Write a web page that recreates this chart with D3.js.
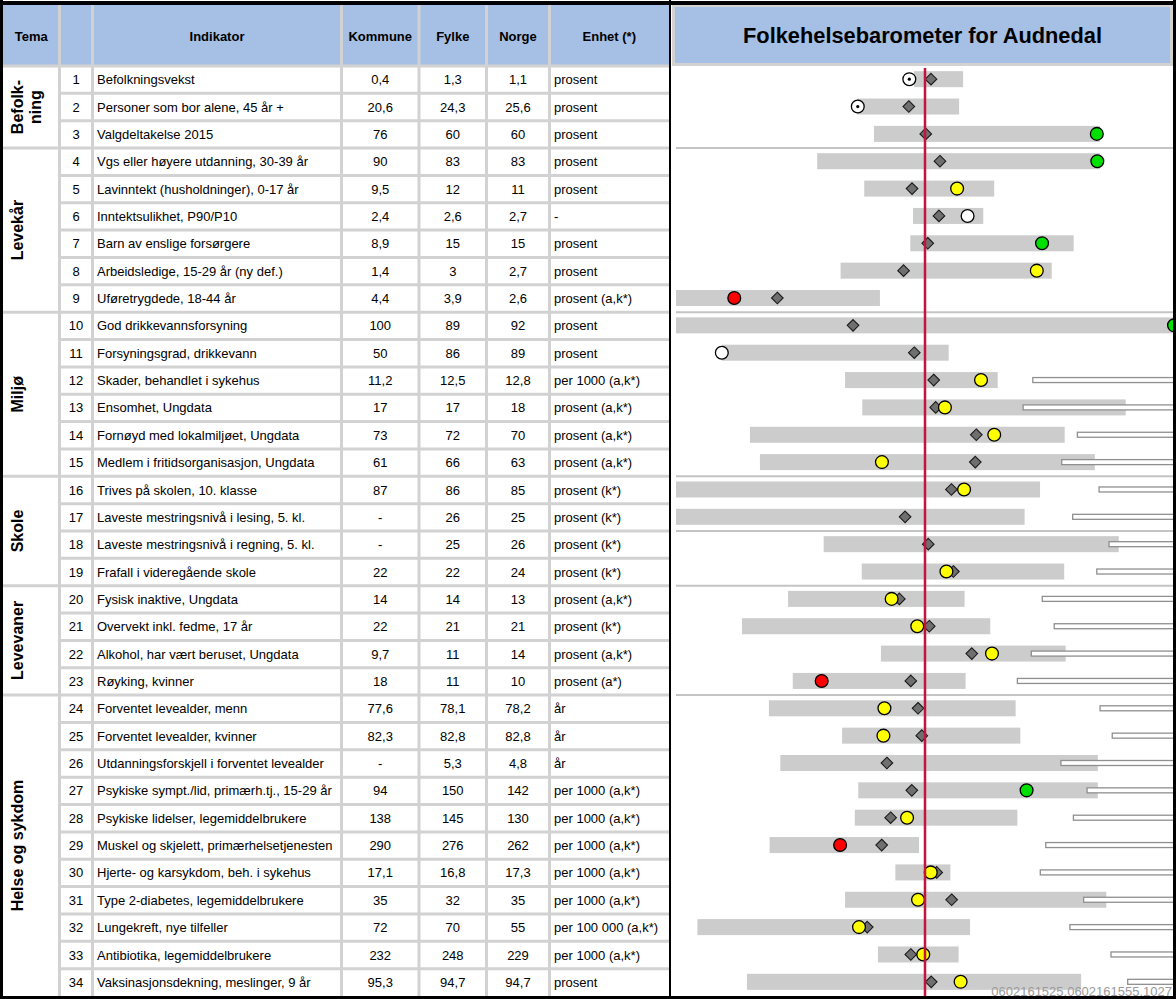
<!DOCTYPE html>
<html><head><meta charset="utf-8">
<script src="https://cdn.jsdelivr.net/npm/d3@7"></script>
<style>
body{margin:0;background:#fff}
svg{display:block}
text{font-family:"Liberation Sans",Arial,Helvetica,sans-serif;fill:#000}
</style>
</head><body>
<svg id="chart" width="1176" height="999"></svg>
<script>
// ---------- DATA ----------
const title = "Folkehelsebarometer for Audnedal";
const footer = "0602161525.0602161555.1027";
const headers = ["Tema", "", "Indikator", "Kommune", "Fylke", "Norge", "Enhet (*)"];
const temaNames = [["Befolk-", "ning"], ["Levekår"], ["Miljø"], ["Skole"], ["Levevaner"], ["Helse og sykdom"]];
const temaSizes = [3, 6, 6, 4, 4, 11];
const extraDividers = [17];   // extra barometer divider after row 17

const indikator = [
  "Befolkningsvekst", "Personer som bor alene, 45 år +", "Valgdeltakelse 2015",
  "Vgs eller høyere utdanning, 30-39 år", "Lavinntekt (husholdninger), 0-17 år", "Inntektsulikhet, P90/P10",
  "Barn av enslige forsørgere", "Arbeidsledige, 15-29 år (ny def.)", "Uføretrygdede, 18-44 år",
  "God drikkevannsforsyning", "Forsyningsgrad, drikkevann", "Skader, behandlet i sykehus",
  "Ensomhet, Ungdata", "Fornøyd med lokalmiljøet, Ungdata", "Medlem i fritidsorganisasjon, Ungdata",
  "Trives på skolen, 10. klasse", "Laveste mestringsnivå i lesing, 5. kl.", "Laveste mestringsnivå i regning, 5. kl.",
  "Frafall i videregående skole", "Fysisk inaktive, Ungdata", "Overvekt inkl. fedme, 17 år",
  "Alkohol, har vært beruset, Ungdata", "Røyking, kvinner", "Forventet levealder, menn",
  "Forventet levealder, kvinner", "Utdanningsforskjell i forventet levealder", "Psykiske sympt./lid, primærh.tj., 15-29 år",
  "Psykiske lidelser, legemiddelbrukere", "Muskel og skjelett, primærhelsetjenesten", "Hjerte- og karsykdom, beh. i sykehus",
  "Type 2-diabetes, legemiddelbrukere", "Lungekreft, nye tilfeller", "Antibiotika, legemiddelbrukere",
  "Vaksinasjonsdekning, meslinger, 9 år"
];
const kommune = ["0,4","20,6","76","90","9,5","2,4","8,9","1,4","4,4","100","50","11,2","17","73","61","87","-","-","22","14","22","9,7","18","77,6","82,3","-","94","138","290","17,1","35","72","232","95,3"];
const fylke   = ["1,3","24,3","60","83","12","2,6","15","3","3,9","89","86","12,5","17","72","66","86","26","25","22","14","21","11","11","78,1","82,8","5,3","150","145","276","16,8","32","70","248","94,7"];
const norge   = ["1,1","25,6","60","83","11","2,7","15","2,7","2,6","92","89","12,8","18","70","63","85","25","26","24","13","21","14","10","78,2","82,8","4,8","142","130","262","17,3","35","55","229","94,7"];
const enhet = ["prosent","prosent","prosent","prosent","prosent","-","prosent","prosent","prosent (a,k*)",
  "prosent","prosent","per 1000 (a,k*)","prosent (a,k*)","prosent (a,k*)","prosent (a,k*)",
  "prosent (k*)","prosent (k*)","prosent (k*)","prosent (k*)",
  "prosent (a,k*)","prosent (k*)","prosent (a,k*)","prosent (a*)",
  "år","år","år","per 1000 (a,k*)","per 1000 (a,k*)","per 1000 (a,k*)","per 1000 (a,k*)",
  "per 1000 (a,k*)","per 100 000 (a,k*)","per 1000 (a,k*)","prosent"];

// Barometer, standardised scores (Norge = 0)
const barLow  = [-4.4,-27.3,-20.5,-43.3,-24.4,-4.8,-5.9,-33.9,-100,-100,-81.6,-32.1,-25.2,-70.3,-66.3,-100,-100,-40.7,-25.4,-55.0,-73.5,-17.7,-53.1,-62.7,-33.3,-58.1,-26.8,-28.2,-62.4,-11.9,-32.1,-91.4,-18.9,-71.5];
const barHigh = [15.3,13.7,70.3,70.3,27.8,23.4,59.7,50.9,-18.1,100,9.5,29.2,80.6,56.1,68.2,46.2,40.0,77.8,55.9,15.9,26.2,56.5,16.3,36.4,38.3,69.4,69.4,37.1,-2.4,10.2,72.8,18.1,13.5,62.7];
const fylkeScore = [2.4,-6.5,0.3,6.0,-5.2,5.6,1.1,-8.6,-59.3,-28.9,-4.3,3.5,4.3,20.6,20.2,10.6,-8.0,1.3,11.4,-10.3,1.7,18.8,-5.7,-2.8,-1.3,-15.3,-5.3,-13.8,-17.4,4.7,10.7,-23.2,-5.7,2.5];
const kommuneScore = [-6.3,-27.0,69.0,69.2,12.9,17.1,47.0,44.9,-76.6,100,-81.6,22.5,8.0,27.8,-17.3,15.7,null,null,8.6,-13.4,-3.1,26.9,-41.5,-16.3,-16.7,null,40.8,-7.2,-34.1,2.3,-2.8,-26.5,-0.7,14.3];
const kommuneColor = ["dot","dot","green","green","yellow","white","green","yellow","red","green","white","yellow","yellow","yellow","yellow","yellow",null,null,"yellow","yellow","yellow","yellow","red","yellow","yellow",null,"green","yellow","red","yellow","yellow","yellow","yellow","yellow"];
const whiteStart = [null,null,null,null,null,null,null,null,null,null,null,43.3,39.4,61.2,54.9,69.9,59.3,73.9,69.0,47.1,51.9,42.7,37.1,70.3,75.2,54.6,65.1,59.6,48.5,46.3,63.7,58.2,74.7,81.4];

// ---------- LAYOUT ----------
const W = 1176, H = 999;
const colSep = [59.5, 92.5, 341.5, 419, 486.5, 549.5];
const tableLeft = 3, tableRight = 669;
const headTop = 5, headBottom = 66, bottom = 996;
const baroLeft = 672, baroRight = 1173;
const gridColor = "#d2d2d2";
const fills = {green:"#00e000", yellow:"#ffff00", red:"#ff0000", white:"#ffffff", dot:"#ffffff"};

const svg = d3.select("#chart");
const n = indikator.length;
const y = d3.scaleBand().domain(d3.range(n)).range([headBottom, bottom]).paddingInner(0);
const x = d3.scaleLinear().domain([-100, 100]).range([676, 1174]);
const cy = i => y(i) + y.bandwidth() / 2;

// group boundaries
const groupEnds = d3.cumsum(temaSizes);
const groupStarts = [0, ...groupEnds.slice(0, -1)];

// ---------- TABLE ----------
const tbl = svg.append("g");
tbl.append("rect").attr("x", tableLeft).attr("y", headTop).attr("width", tableRight - tableLeft).attr("height", headBottom - headTop).attr("fill", "#a6bfe4");

tbl.selectAll("line.v").data(colSep).join("line")
  .attr("x1", d => d).attr("x2", d => d).attr("y1", headTop).attr("y2", bottom)
  .attr("stroke", gridColor).attr("stroke-width", 3);

const rowBounds = d3.range(0, n);
tbl.selectAll("line.h").data(rowBounds).join("line")
  .attr("x1", d => (d === 0 || groupEnds.includes(d)) ? tableLeft : colSep[0])
  .attr("x2", tableRight)
  .attr("y1", d => y(d)).attr("y2", d => y(d))
  .attr("stroke", gridColor).attr("stroke-width", 3);

const headX = [(tableLeft + colSep[0]) / 2, (colSep[0] + colSep[1]) / 2, (colSep[1] + colSep[2]) / 2,
  (colSep[2] + colSep[3]) / 2, (colSep[3] + colSep[4]) / 2, (colSep[4] + colSep[5]) / 2, (colSep[5] + tableRight) / 2];
tbl.selectAll("text.head").data(headers).join("text")
  .attr("x", (d, i) => headX[i]).attr("y", (headTop + headBottom) / 2 + 1).attr("dy", "0.35em")
  .attr("text-anchor", "middle").attr("font-size", 13).attr("font-weight", "bold").text(d => d);

const rows = tbl.selectAll("g.row").data(d3.range(n)).join("g");
rows.append("text").attr("x", headX[1]).attr("y", i => cy(i)).attr("dy", "0.35em").attr("text-anchor", "middle").attr("font-size", 13).text(i => i + 1);
rows.append("text").attr("x", colSep[1] + 4.5).attr("y", i => cy(i)).attr("dy", "0.35em").attr("font-size", 13).text(i => indikator[i]);
rows.append("text").attr("x", headX[3]).attr("y", i => cy(i)).attr("dy", "0.35em").attr("text-anchor", "middle").attr("font-size", 13).text(i => kommune[i]);
rows.append("text").attr("x", headX[4]).attr("y", i => cy(i)).attr("dy", "0.35em").attr("text-anchor", "middle").attr("font-size", 13).text(i => fylke[i]);
rows.append("text").attr("x", headX[5]).attr("y", i => cy(i)).attr("dy", "0.35em").attr("text-anchor", "middle").attr("font-size", 13).text(i => norge[i]);
rows.append("text").attr("x", colSep[5] + 4.5).attr("y", i => cy(i)).attr("dy", "0.35em").attr("font-size", 13).text(i => enhet[i]);

temaNames.forEach((lines, g) => {
  const yc = (y(groupStarts[g]) + (groupEnds[g] < n ? y(groupEnds[g]) : bottom)) / 2;
  lines.forEach((line, k) => {
    const xc = lines.length === 1 ? 17.5 : 17 + k * 18;
    tbl.append("text").attr("transform", `translate(${xc},${yc}) rotate(-90)`)
      .attr("dy", "0.36em").attr("text-anchor", "middle").attr("font-size", 16).attr("font-weight", "bold").text(line);
  });
});

// ---------- BAROMETER ----------
const baro = svg.append("g");
svg.append("defs").append("clipPath").attr("id", "bclip").append("rect")
  .attr("x", baroLeft).attr("y", headBottom + 1).attr("width", baroRight - baroLeft).attr("height", bottom - headBottom - 1);

baro.append("rect").attr("x", baroLeft + 1.5).attr("y", headTop + 0.5).attr("width", baroRight - baroLeft - 3).attr("height", headBottom - headTop - 2)
  .attr("fill", "#a6bfe4").attr("stroke", gridColor).attr("stroke-width", 3);
baro.append("text").attr("x", (baroLeft + baroRight) / 2).attr("y", (headTop + headBottom) / 2).attr("dy", "0.36em")
  .attr("text-anchor", "middle").attr("font-size", 21.8).attr("font-weight", "bold").text(title);

const plot = baro.append("g").attr("clip-path", "url(#bclip)");
const dividers = [...groupEnds.slice(0, -1), ...extraDividers];
plot.selectAll("line.div").data(dividers).join("line")
  .attr("x1", 676).attr("x2", baroRight).attr("y1", d => y(d)).attr("y2", d => y(d))
  .attr("stroke", "#c4c4c4").attr("stroke-width", 2);

const barH = 16;
plot.selectAll("rect.range").data(d3.range(n)).join("rect")
  .attr("x", i => x(barLow[i])).attr("width", i => x(barHigh[i]) - x(barLow[i]))
  .attr("y", i => cy(i) - barH / 2 - 0.5).attr("height", barH).attr("fill", "#cccccc");

plot.selectAll("rect.white").data(d3.range(n).filter(i => whiteStart[i] !== null)).join("rect")
  .attr("x", i => x(whiteStart[i])).attr("width", i => x(100) + 4 - x(whiteStart[i]))
  .attr("y", i => cy(i) - 3).attr("height", 5).attr("fill", "#fff").attr("stroke", "#8f8f8f").attr("stroke-width", 1.3);

plot.selectAll("path.fylke").data(d3.range(n)).join("path")
  .attr("d", "M0,-5.8L5.8,0L0,5.8L-5.8,0Z")
  .attr("transform", i => `translate(${x(fylkeScore[i])},${cy(i) - 0.5})`)
  .attr("fill", "#6f6f6f").attr("stroke", "#1a1a1a").attr("stroke-width", 1.1);

const kIdx = d3.range(n).filter(i => kommuneScore[i] !== null);
plot.selectAll("circle.kom").data(kIdx).join("circle")
  .attr("cx", i => x(kommuneScore[i])).attr("cy", i => cy(i) - 0.5).attr("r", 6.4)
  .attr("fill", i => fills[kommuneColor[i]]).attr("stroke", "#000").attr("stroke-width", 1.3);
plot.selectAll("circle.dot").data(kIdx.filter(i => kommuneColor[i] === "dot")).join("circle")
  .attr("cx", i => x(kommuneScore[i])).attr("cy", i => cy(i) - 0.5).attr("r", 1.6).attr("fill", "#000");

plot.append("line").attr("x1", x(0)).attr("x2", x(0)).attr("y1", headBottom + 2).attr("y2", bottom)
  .attr("stroke", "#c4143c").attr("stroke-width", 2.5);

svg.append("text").attr("x", baroRight - 1).attr("y", 996).attr("text-anchor", "end")
  .attr("font-size", 13).style("fill", "#9a9a9a").text(footer);

// ---------- FRAME ----------
const frame = svg.append("g").attr("fill", "#000");
frame.append("rect").attr("x", 0).attr("y", 1).attr("width", W).attr("height", 4);
frame.append("rect").attr("x", 0).attr("y", bottom).attr("width", W).attr("height", 3);
frame.append("rect").attr("x", 0).attr("y", 0).attr("width", 3).attr("height", H);
frame.append("rect").attr("x", baroRight).attr("y", 0).attr("width", 3).attr("height", H);
frame.append("rect").attr("x", 669).attr("y", 0).attr("width", 2).attr("height", H);
</script>
</body></html>
